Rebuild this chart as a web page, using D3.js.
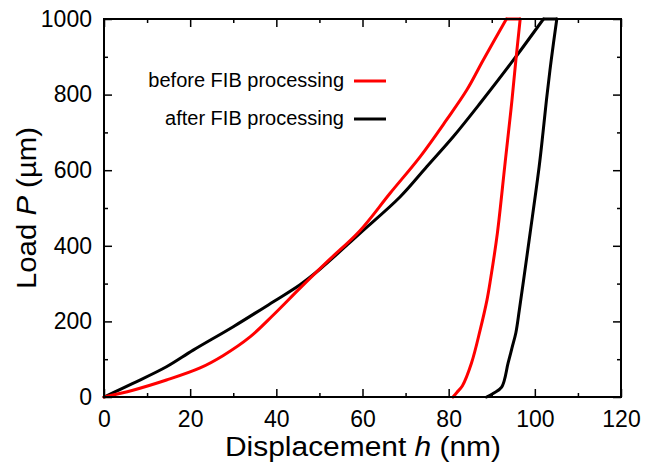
<!DOCTYPE html>
<html>
<head>
<meta charset="utf-8">
<script src="https://cdn.jsdelivr.net/npm/d3@7"></script>
<style>
  html, body { margin: 0; padding: 0; background: #fff; }
  svg { display: block; font-family: Arial, 'Liberation Sans', sans-serif; }
</style>
</head>
<body>
<div id="chart"></div>
<script>
// Load-displacement curves, before / after FIB processing
const W = 659, H = 463;
const M = { top: 19, right: 38, bottom: 66, left: 104 };

// before FIB processing (red): loading, hold, unloading
const beforeH = [0, 6.7, 14.5, 22.3, 27.7, 33.9, 39.3, 45.5, 52, 59.4, 66.4, 73.4, 79.5, 84.2, 88, 93.4,
  96.6, 95.6, 94.7, 94.2, 93.0, 91.3, 89.7, 88.9, 87.3, 85.3, 83.2, 81.9, 81];
const beforeP = [0, 18, 45, 77, 110, 159, 217, 288, 360, 440, 539, 636, 733, 812, 891, 1000,
  1000, 891, 786, 733, 609, 433, 310, 257, 177, 90, 30, 12, 0];

// after FIB processing (black)
const afterH = [0, 6.7, 14.5, 20.7, 30, 39.3, 45.5, 50.1, 59.4, 68.7, 74.9, 81.1, 87.3, 95, 102,
  105.1, 103.8, 102.7, 101.9, 101.0, 98.9, 97.4, 96.4, 95.6, 94.7, 93.8, 92.3, 90.4, 88.8];
const afterP = [0, 36, 80, 124, 186, 252, 297, 338, 433, 529, 609, 689, 777, 891, 1000,
  1000, 891, 786, 700, 609, 433, 310, 230, 170, 130, 90, 26, 10, 0];

const xTicks = [0, 20, 40, 60, 80, 100, 120];
const xMinor = [10, 30, 50, 70, 90, 110];
const yTicks = [0, 200, 400, 600, 800, 1000];
const yMinor = [100, 300, 500, 700, 900];

const series = [
  { name: 'after FIB processing', color: '#000000', h: afterH, p: afterP },
  { name: 'before FIB processing', color: '#ff0000', h: beforeH, p: beforeP }
];

const svg = d3.select('#chart').append('svg')
  .attr('width', W).attr('height', H);

const x = d3.scaleLinear().domain([0, 120]).range([M.left, W - M.right]);
const y = d3.scaleLinear().domain([0, 1000]).range([H - M.bottom, M.top]);

const smooth = d3.line()
  .x(d => x(d[0]))
  .y(d => y(d[1]))
  .curve(d3.curveCatmullRom.alpha(0.5));
const straight = d3.line()
  .x(d => x(d[0]))
  .y(d => y(d[1]));

// curves (black under red): smooth loading and unloading, straight hold at peak load
series.forEach(s => {
  const pts = s.h.map((v, i) => [v, s.p[i]]);
  const k = s.p.indexOf(1000);
  const parts = [
    [pts.slice(0, k + 1), smooth],
    [pts.slice(k, k + 2), straight],
    [pts.slice(k + 1), smooth]
  ];
  parts.forEach(([d, gen]) => {
    svg.append('path')
      .datum(d)
      .attr('d', gen)
      .attr('fill', 'none')
      .attr('stroke', s.color)
      .attr('stroke-width', 3)
      .attr('stroke-linejoin', 'round')
      .attr('stroke-linecap', 'round');
  });
});

// axes, ticks pointing inward on all four sides
function styleAxis(g) {
  g.select('.domain').remove();
  g.selectAll('.tick line').attr('stroke', '#000').attr('stroke-width', 1.5);
  g.selectAll('text').attr('fill', '#000').style('font-size', '23px')
    .style('font-family', "Arial, 'Liberation Sans', sans-serif");
}

svg.append('g')
  .attr('transform', `translate(0,${y(0)})`)
  .call(d3.axisBottom(x).tickValues(xTicks).tickSize(-8).tickPadding(14).tickFormat(d3.format('d')))
  .call(styleAxis);
svg.append('g')
  .attr('transform', `translate(0,${y(0)})`)
  .call(d3.axisBottom(x).tickValues(xMinor).tickSize(-4).tickFormat(''))
  .call(styleAxis);
svg.append('g')
  .attr('transform', `translate(0,${y(1000)})`)
  .call(d3.axisTop(x).tickValues(xTicks).tickSize(-8).tickFormat(''))
  .call(styleAxis);
svg.append('g')
  .attr('transform', `translate(0,${y(1000)})`)
  .call(d3.axisTop(x).tickValues(xMinor).tickSize(-4).tickFormat(''))
  .call(styleAxis);

svg.append('g')
  .attr('transform', `translate(${x(0)},0)`)
  .call(d3.axisLeft(y).tickValues(yTicks).tickSize(-8).tickPadding(12).tickFormat(d3.format('d')))
  .call(styleAxis);
svg.append('g')
  .attr('transform', `translate(${x(0)},0)`)
  .call(d3.axisLeft(y).tickValues(yMinor).tickSize(-4).tickFormat(''))
  .call(styleAxis);
svg.append('g')
  .attr('transform', `translate(${x(120)},0)`)
  .call(d3.axisRight(y).tickValues(yTicks).tickSize(-8).tickFormat(''))
  .call(styleAxis);
svg.append('g')
  .attr('transform', `translate(${x(120)},0)`)
  .call(d3.axisRight(y).tickValues(yMinor).tickSize(-4).tickFormat(''))
  .call(styleAxis);

// frame
svg.append('rect')
  .attr('x', x(0)).attr('y', y(1000))
  .attr('width', x(120) - x(0)).attr('height', y(0) - y(1000))
  .attr('fill', 'none')
  .attr('stroke', '#000')
  .attr('stroke-width', 2);

// axis titles (slightly wider lettering than Arial in the source)
const xt = svg.append('text')
  .attr('x', 363)
  .attr('y', 456)
  .attr('text-anchor', 'middle')
  .attr('textLength', 276)
  .attr('lengthAdjust', 'spacingAndGlyphs')
  .style('font-size', '27px');
xt.append('tspan').text('Displacement ');
xt.append('tspan').style('font-style', 'italic').text('h');
xt.append('tspan').text(' (nm)');

const yt = svg.append('text')
  .attr('transform', `translate(36,${(y(0) + y(1000)) / 2}) rotate(-90)`)
  .attr('text-anchor', 'middle')
  .attr('textLength', 162)
  .attr('lengthAdjust', 'spacingAndGlyphs')
  .style('font-size', '28px');
yt.append('tspan').text('Load ');
yt.append('tspan').style('font-style', 'italic').text('P');
yt.append('tspan').text(' (\u00b5m)');

// legend
const legend = svg.append('g');
[series[1], series[0]].forEach((s, i) => {
  const ly = 81 + i * 38;
  legend.append('text')
    .attr('x', 344)
    .attr('y', ly + 6)
    .attr('text-anchor', 'end')
    .style('font-size', '20px')
    .text(s.name);
  legend.append('line')
    .attr('x1', 354).attr('x2', 386)
    .attr('y1', ly).attr('y2', ly)
    .attr('stroke', s.color)
    .attr('stroke-width', 3);
});
</script>
</body>
</html>
